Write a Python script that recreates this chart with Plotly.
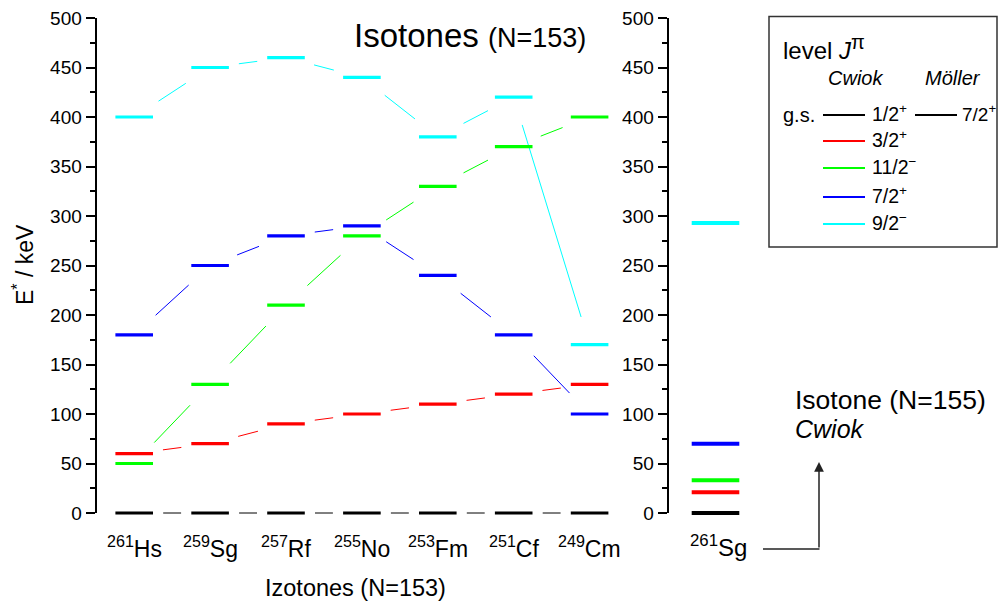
import math
import plotly.graph_objects as go

# ---------------- data ----------------
mass_numbers = ["261", "259", "257", "255", "253", "251", "249"]
elements = ["Hs", "Sg", "Rf", "No", "Fm", "Cf", "Cm"]

e_gs = [0, 0, 0, 0, 0, 0, 0]                        # g.s. 1/2+
e_3_2p = [60, 70, 90, 100, 110, 120, 130]           # 3/2+
e_11_2m = [50, 130, 210, 280, 330, 370, 400]        # 11/2-
e_7_2p = [180, 250, 280, 290, 240, 180, 100]        # 7/2+
e_9_2m = [400, 450, 460, 440, 380, 420, 170]        # 9/2-

sg261_levels = [0, 21, 33, 70, 293]                 # 261Sg (N=155): gs, 3/2+, 11/2-, 7/2+, 9/2-

level_names = ["1/2<sup>+</sup>", "3/2<sup>+</sup>", "11/2<sup>−</sup>", "7/2<sup>+</sup>", "9/2<sup>−</sup>"]
level_colors = ["#000000", "#ff0000", "#00ff00", "#0000ff", "#00ffff"]
series = [e_gs, e_3_2p, e_11_2m, e_7_2p, e_9_2m]

# ---------------- geometry ----------------
W, H = 999, 604
X0_PX, DX_PX = 134.2, 75.9        # pixel of first isotone, pixel spacing
Y0_PX, KEV_PX = 513.0, 0.99       # pixel row of 0 keV, pixels per keV
HALF_W = 18.8 / DX_PX             # half-width of level bars (x units)
SG_X = (715.5 - X0_PX) / DX_PX    # position of the 261Sg column
SG_HALF_W = 23.8 / DX_PX
GAP_PX = 29.0                     # connector gap from level centre (px)

FONT = "Liberation Sans, Arial, sans-serif"


def px(x):
    return x / W


def py(y):
    return 1 - y / H


x_range = [(0 - X0_PX) / DX_PX, (W - X0_PX) / DX_PX]
y_range = [-40, 510]
y_dom = [1 - (Y0_PX - y_range[0] * KEV_PX) / H, 1 - (Y0_PX - y_range[1] * KEV_PX) / H]
axis_dom = [1 - Y0_PX / H, 1 - (Y0_PX - 500 * KEV_PX) / H]

fig = go.Figure()

xs = list(range(len(elements)))

# connectors (thin lines between level centres, with gaps)
for vals, col in zip(series, level_colors):
    cx, cy = [], []
    for i in range(len(vals) - 1):
        x0, y0, x1, y1 = xs[i], vals[i], xs[i + 1], vals[i + 1]
        dxp = (x1 - x0) * DX_PX
        dyp = (y1 - y0) * KEV_PX
        L = math.hypot(dxp, dyp)
        t = GAP_PX / L
        cx += [x0 + t * (x1 - x0), x1 - t * (x1 - x0), None]
        cy += [y0 + t * (y1 - y0), y1 - t * (y1 - y0), None]
    fig.add_trace(go.Scatter(x=cx, y=cy, mode="lines", line=dict(color=col, width=1),
                             showlegend=False, hoverinfo="skip"))

# level bars
for vals, col in zip(series, level_colors):
    lx, ly = [], []
    for i, v in zip(xs, vals):
        lx += [i - HALF_W, i + HALF_W, None]
        ly += [v, v, None]
    fig.add_trace(go.Scatter(x=lx, y=ly, mode="lines", line=dict(color=col, width=3.2),
                             showlegend=False, hoverinfo="skip"))

# 261Sg column
for v, col in zip(sg261_levels, level_colors):
    fig.add_trace(go.Scatter(x=[SG_X - SG_HALF_W, SG_X + SG_HALF_W], y=[v, v], mode="lines",
                             line=dict(color=col, width=4), showlegend=False, hoverinfo="skip"))

# dummy traces to create the two visible energy axes
fig.add_trace(go.Scatter(x=[None], y=[None], xaxis="x", yaxis="y2", showlegend=False, hoverinfo="skip"))
fig.add_trace(go.Scatter(x=[None], y=[None], xaxis="x", yaxis="y3", showlegend=False, hoverinfo="skip"))

axis_common = dict(
    domain=axis_dom, range=[0, 500], anchor="free", side="left",
    showline=True, linecolor="black", linewidth=1.8,
    ticks="outside", ticklen=9, tickwidth=1.5, tickcolor="black",
    dtick=50, tick0=0, showgrid=False, zeroline=False, automargin=False,
    tickfont=dict(family=FONT, size=19, color="black"),
    minor=dict(ticks="outside", ticklen=5, tickwidth=1.5, tickcolor="black", dtick=25, tick0=0),
    fixedrange=True,
)

fig.update_layout(
    width=W, height=H,
    margin=dict(l=0, r=0, t=0, b=0, pad=0, autoexpand=False),
    paper_bgcolor="white", plot_bgcolor="rgba(0,0,0,0)",
    xaxis=dict(domain=[0, 1], range=x_range, visible=False, fixedrange=True, automargin=False),
    yaxis=dict(domain=y_dom, range=y_range, visible=False, fixedrange=True, automargin=False),
    yaxis2=dict(position=95.5 / W, **axis_common),
    yaxis3=dict(position=667.5 / W, **axis_common),
    font=dict(family=FONT, color="black"),
    showlegend=False,
)

ann = []
# isotone labels
for i, (m, el) in enumerate(zip(mass_numbers, elements)):
    ann.append(dict(x=i, xref="x", y=py(547), yref="paper", text=f"<sup>{m}</sup>{el}",
                    showarrow=False, xanchor="center", yanchor="middle",
                    font=dict(family=FONT, size=23, color="black")))
ann.append(dict(x=SG_X + 0.04, xref="x", y=py(546), yref="paper", text="<sup>261</sup>Sg",
                showarrow=False, xanchor="center", yanchor="middle",
                font=dict(family=FONT, size=24, color="black")))

# axis titles
ann.append(dict(x=px(23), y=py(265), xref="paper", yref="paper", text="E<sup>*</sup> / keV",
                textangle=-90, showarrow=False, xanchor="center", yanchor="middle",
                font=dict(family=FONT, size=23, color="black")))
ann.append(dict(x=px(355), y=py(588), xref="paper", yref="paper", text="Izotones (N=153)",
                showarrow=False, xanchor="center", yanchor="middle",
                font=dict(family=FONT, size=23.5, color="black")))

# title
ann.append(dict(x=px(352), y=py(36), xref="paper", yref="paper",
                text="Isotones <span style='font-size:27px'>(N=153)</span>",
                showarrow=False, xanchor="left", yanchor="middle",
                font=dict(family=FONT, size=33, color="black")))

# isotone N=155 label
ann.append(dict(x=px(793), y=py(400), xref="paper", yref="paper", text="Isotone (N=155)",
                showarrow=False, xanchor="left", yanchor="middle",
                font=dict(family=FONT, size=26.5, color="black")))
ann.append(dict(x=px(793), y=py(429), xref="paper", yref="paper", text="<i>Cwiok</i>",
                showarrow=False, xanchor="left", yanchor="middle",
                font=dict(family=FONT, size=25, color="black")))

# arrow
ann.append(dict(x=px(819), y=py(462), xref="paper", yref="paper", text="",
                showarrow=True, ax=0, ay=87, axref="pixel", ayref="pixel",
                arrowhead=2, arrowsize=1.3, arrowwidth=1.5, arrowcolor="#222222", standoff=0))

# legend texts
ann.append(dict(x=px(781), y=py(47), xref="paper", yref="paper",
                text="level <i>J</i><sup><span style='font-size:20px'>π</span></sup>",
                showarrow=False, xanchor="left", yanchor="middle",
                font=dict(family=FONT, size=24, color="black")))
ann.append(dict(x=px(855), y=py(78), xref="paper", yref="paper", text="<i>Cwiok</i>",
                showarrow=False, xanchor="center", yanchor="middle",
                font=dict(family=FONT, size=20, color="black")))
ann.append(dict(x=px(953), y=py(78), xref="paper", yref="paper", text="<i>Möller</i>",
                showarrow=False, xanchor="center", yanchor="middle",
                font=dict(family=FONT, size=20, color="black")))
ann.append(dict(x=px(781), y=py(115), xref="paper", yref="paper", text="g.s.",
                showarrow=False, xanchor="left", yanchor="middle",
                font=dict(family=FONT, size=20, color="black")))

legend_rows = [115, 141, 168, 197, 224]
shapes = []
for row, name, col in zip(legend_rows, level_names, level_colors):
    shapes.append(dict(type="line", xref="paper", yref="paper", x0=px(823), x1=px(865),
                       y0=py(row), y1=py(row), line=dict(color=col, width=2.2)))
    ann.append(dict(x=px(870), y=py(row - 2), xref="paper", yref="paper", text=name,
                    showarrow=False, xanchor="left", yanchor="middle",
                    font=dict(family=FONT, size=19.5, color="black")))
shapes.append(dict(type="line", xref="paper", yref="paper", x0=px(915), x1=px(957),
                   y0=py(115), y1=py(115), line=dict(color="black", width=2.2)))
ann.append(dict(x=px(960), y=py(113), xref="paper", yref="paper", text="7/2<sup>+</sup>",
                showarrow=False, xanchor="left", yanchor="middle",
                font=dict(family=FONT, size=19, color="black")))

# legend frame
shapes.append(dict(type="rect", xref="paper", yref="paper", x0=px(769), x1=px(997),
                   y0=py(247), y1=py(16.5), line=dict(color="#333333", width=1.5)))
# horizontal part of the arrow
shapes.append(dict(type="line", xref="paper", yref="paper", x0=px(763), x1=px(819.5),
                   y0=py(549), y1=py(549), line=dict(color="#222222", width=1.5)))

fig.update_layout(annotations=ann, shapes=shapes)

fig.write_html("out.html")
